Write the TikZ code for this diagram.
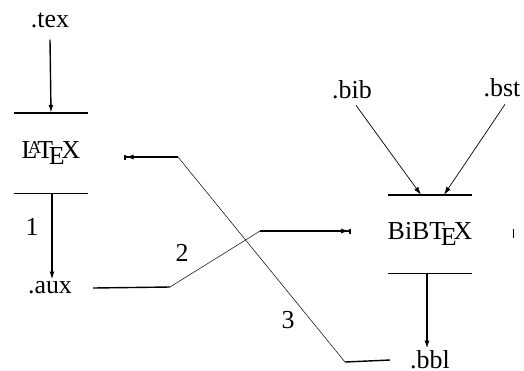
\documentclass[tikz,border=0pt]{standalone}
\usepackage{fontspec}
\setmainfont{Liberation Serif}
\usepackage{tikz}
\usetikzlibrary{arrows.meta}
\tikzstyle{file}=[inner sep=2bp, font=\fontsize{26}{30}\selectfont]
\tikzstyle{prog}=[inner sep=0pt, minimum width=74bp, minimum height=80bp, font=\fontsize{26}{30}\selectfont]
\tikzstyle{flow}=[line width=1.4bp, -{Latex[length=8bp,width=5bp]}]

\begin{document}
\begin{tikzpicture}[x=1bp, y=-1bp]
        \useasboundingbox (0,0) rectangle (524,370);
        %% Programas
        \node[prog] (latex) at (51, 153) {\LaTeX};
        \node[prog, minimum height=78bp] (bibtex) at (430, 234) {BiB\TeX};
        \draw[line width=1.4bp] (latex.north west) -- (latex.north east);
        \draw[line width=1.4bp] (latex.south west) -- (latex.south east);
        \draw[line width=1.4bp] (bibtex.north west) -- (bibtex.north east);
        \draw[line width=1.4bp] (bibtex.south west) -- (bibtex.south east);
        \draw[line width=1.4bp] ([shift={(41,-5)}]bibtex.east) -- ([shift={(41,4)}]bibtex.east);

        %% Ficheros
        \node[file] (tex) at (50, 20) {.tex};
        \node[file] (aux) at (50, 288) {.aux};
        \node[file] (bib) at (352, 90) {.bib};
        \node[file] (bst) at (502, 88) {.bst};
        \node[file] (bbl) at (430, 360) {.bbl};

        % Pasos
        \node[file] (n1) at (32, 227) {1};
        \node[file] (n2) at (182, 253) {2};
        \node[file] (n3) at (288, 320) {3};

        %% Flechas
        \draw[flow] ([yshift=-10bp]tex.south) -- (latex.north);
        \draw[flow] (latex.south) ++(1,0) -- ([xshift=1bp]latex.south |- aux.north);
        \draw[flow, line width=0.7bp] ([shift={(4,4)}]bib.south) -- ([xshift=-9bp]bibtex.north);
        \draw[flow, line width=0.7bp] ([shift={(3,5)}]bst.south) -- ([xshift=14bp]bibtex.north);
        \draw[flow] ([xshift=-3bp]bibtex.south) -- ([xshift=-3bp]bibtex.south |- bbl.north);

        % .aux -> BibTeX
        \coordinate (c2a) at (170, 287);
        \coordinate (c2b) at (260, 231);
        \draw[line width=1.4bp] ([xshift=19bp]aux.east) -- (c2a);
        \draw[line width=0.5bp] (c2a) -- (c2b);
        \draw[flow, -{Latex[length=8bp,width=5bp]Bar[width=5bp]}] (c2b) -- ([shift={(-37,-3)}]bibtex.west);

        % .bbl -> LaTeX
        \coordinate (c3a) at (345, 362);
        \coordinate (c3b) at (178, 157);
        \draw[line width=1.4bp] ([xshift=-18bp]bbl.west) -- (c3a);
        \draw[line width=0.5bp] (c3a) -- (c3b);
        \draw[flow, -{Latex[length=8bp,width=5bp]Bar[width=5bp]}] (c3b) -- ([shift={(36,4)}]latex.east);
\end{tikzpicture}
\end{document}
